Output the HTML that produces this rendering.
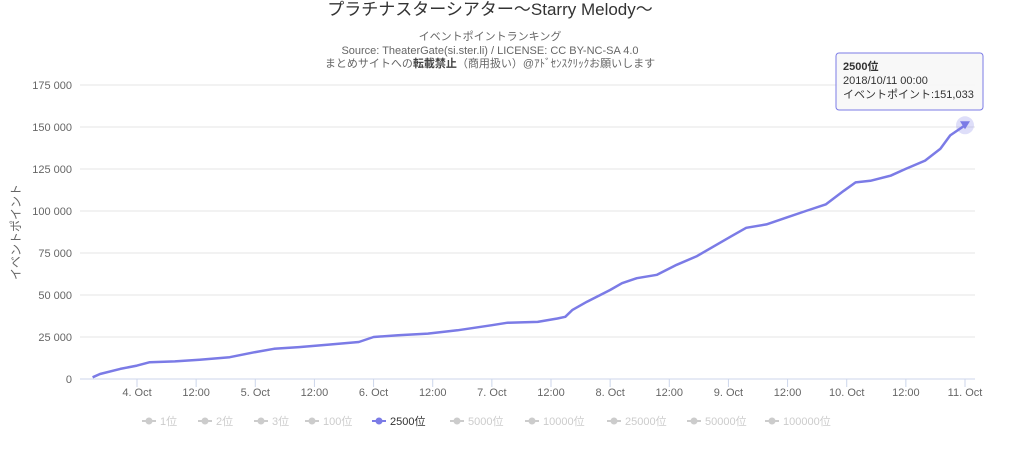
<!DOCTYPE html>
<html><head><meta charset="utf-8">
<style>
body{margin:0;background:#fff;width:1024px;height:447px;overflow:hidden;font-family:"Liberation Sans","Noto Sans CJK JP",sans-serif}
svg text{font-family:"Liberation Sans","Noto Sans CJK JP",sans-serif}
</style></head><body>
<svg id="chart" width="1024" height="447" xmlns="http://www.w3.org/2000/svg">
<text x="490" y="15" text-anchor="middle" font-size="17" fill="#333">プラチナスターシアター〜Starry Melody〜</text>
<text x="490" y="40" text-anchor="middle" font-size="11" fill="#666">イベントポイントランキング</text>
<text x="490" y="54" text-anchor="middle" font-size="11" fill="#666">Source: TheaterGate(si.ster.li) / LICENSE: CC BY-NC-SA 4.0</text>
<text x="490" y="67" text-anchor="middle" font-size="11" fill="#666">まとめサイトへの<tspan font-weight="bold" fill="#444">転載禁止</tspan>（商用扱い）@ｱﾄﾞｾﾝｽｸﾘｯｸお願いします</text>
<text transform="translate(20,232) rotate(-90)" text-anchor="middle" font-size="12" fill="#666">イベントポイント</text>
<g id="grid"></g><g id="xaxis"></g><g id="series"></g><g id="legend"></g>
</svg>
<script>
const yTicks=[0,25000,50000,75000,100000,125000,150000,175000];
const yTickLabels=["0","25 000","50 000","75 000","100 000","125 000","150 000","175 000"];
const xTicks=[0,12,24,36,48,60,72,84,96,108,120,132,144,156,168];
const xTickLabels=["4. Oct","12:00","5. Oct","12:00","6. Oct","12:00","7. Oct","12:00","8. Oct","12:00","9. Oct","12:00","10. Oct","12:00","11. Oct"];
const hours=[-9,-7.5,-3.4,0,2.6,7.7,12.7,18.8,24,27.8,32.9,38.9,45,48,53,59,65,72,75.2,81.3,85.3,86.9,88.3,91.3,96,98.4,101.4,105.5,109.5,113.5,120.6,123.6,127.7,131.7,135.7,139.8,143.4,145.8,148.8,152.9,155.9,159.9,163,165,168];
const points=[1000,3000,6000,8000,10000,10500,11500,13000,16000,18000,19000,20500,22000,25000,26000,27000,29000,32000,33500,34000,36000,37000,41000,46000,53000,57000,60000,62000,68000,73000,85000,90000,92000,96000,100000,104000,112000,117000,118000,121000,125000,130000,137000,145000,151033];
const legendNames=["1位","2位","3位","100位","2500位","5000位","10000位","25000位","50000位","100000位"];
const NS="http://www.w3.org/2000/svg";
const X0=80,X1=975,Y0=379,Y1=85;
const xs=h=>137+h*(965-137)/168;
const ys=v=>Y0-(v/175000)*(Y0-Y1);
function mk(t,a,p){const e=document.createElementNS(NS,t);for(const k in a)e.setAttribute(k,a[k]);p.appendChild(e);return e;}
const grid=document.getElementById('grid');
yTicks.forEach((v,i)=>{
 const l=mk('line',{x1:X0,x2:X1,y1:ys(v),y2:ys(v),stroke:i?'#e6e6e6':'#ccd6eb'},grid);
 
 
 const t=mk('text',{x:72,y:ys(v)+4,'text-anchor':'end','font-size':11,fill:'#666'},grid);
 t.textContent=yTickLabels[i];
 
 
});
const xa=document.getElementById('xaxis');
xTicks.forEach((h,i)=>{
 const l=mk('line',{x1:xs(h),x2:xs(h),y1:Y0,y2:Y0+8,stroke:'#ccd6eb'},xa);
 
 
 const t=mk('text',{x:xs(h),y:396,'text-anchor':'middle','font-size':11,fill:'#666'},xa);
 t.textContent=xTickLabels[i];
 
 
});
const s=document.getElementById('series');
const d=hours.map((h,i)=>(i?'L':'M')+xs(h).toFixed(1)+','+ys(points[i]).toFixed(1)).join(' ');
const path=mk('path',{d:d,fill:'none',stroke:'#7b7be6','stroke-width':2.5,'stroke-linejoin':'round'},s);


const lx=xs(hours[hours.length-1]),ly=ys(points[points.length-1]);
const halo=mk('circle',{cx:lx,cy:ly,r:9,fill:'#7b7be6','fill-opacity':0.25},s);


const mkr=mk('path',{d:`M${lx-5},${ly-4} L${lx+5},${ly-4} L${lx},${ly+4} Z`,fill:'#7b7be6'},s);


const tip=mk('g',{},s);


mk('rect',{x:836,y:53,width:147,height:57,fill:'#f7f7f7','fill-opacity':0.9,stroke:'#7b7be6',rx:3},tip);
const t1=mk('text',{x:843,y:70,'font-size':11,'font-weight':'bold',fill:'#333'},tip);t1.textContent='2500位';
const t2=mk('text',{x:843,y:84,'font-size':11,fill:'#333'},tip);t2.textContent='2018/10/11 00:00';
const t3=mk('text',{x:843,y:98,'font-size':11,fill:'#333'},tip);t3.textContent='イベントポイント:151,033';
const lg=document.getElementById('legend');
const lxPos=[142,198,254,305,372,450,525,607,687,765];
legendNames.forEach((n,i)=>{
 const g=mk('g',{},lg);
 
 
 const act=i===4,c=act?'#7b7be6':'#cccccc';
 mk('line',{x1:lxPos[i],x2:lxPos[i]+14,y1:421,y2:421,stroke:c,'stroke-width':2},g);
 mk('circle',{cx:lxPos[i]+7,cy:421,r:3.5,fill:c},g);
 const t=mk('text',{x:lxPos[i]+18,y:425,'font-size':11,fill:act?'#333':'#ccc'},g);
 t.textContent=n;
});
</script>
</body></html>
